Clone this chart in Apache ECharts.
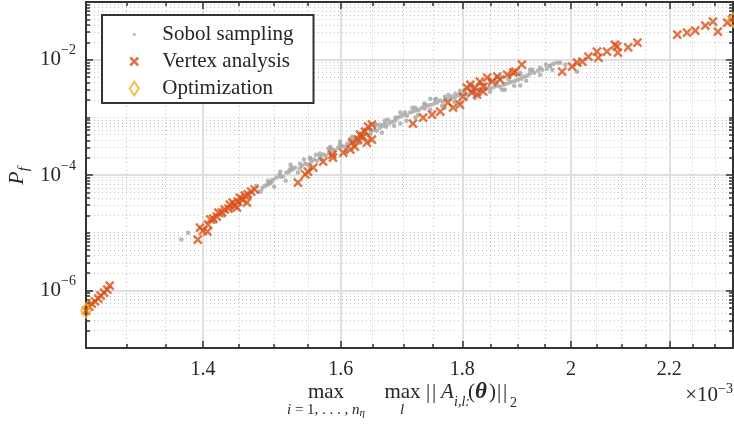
<!DOCTYPE html>
<html>
<head>
<meta charset="utf-8">
<script src="https://cdn.jsdelivr.net/npm/echarts@6.0.0/dist/echarts.min.js"></script>
<style>
  html, body { margin: 0; padding: 0; background: #fff; }
  #chart { width: 734px; height: 425px; }
</style>
</head>
<body>
<div id="chart"></div>
<script>
// x values are in units of 1e-3 (axis shows x10^-3)
const xMin = 1.25
const xMax = 2.34
const yMin = 1e-7
const yMax = 1e-1
const xMajorTicks = [1.4, 1.6, 1.8, 2, 2.2]
const xMinorTicks = [1.3, 1.35, 1.45, 1.5, 1.55, 1.65, 1.7, 1.75, 1.85, 1.9, 1.95, 2.05, 2.1, 2.15, 2.25, 2.3]
const yMajorExps = [-6, -4, -2]

const sobolX = [1.371, 1.380, 1.417, 1.428, 1.439, 1.450, 1.465, 1.477, 1.483, 1.487,
  1.490, 1.493, 1.496, 1.498, 1.503, 1.508, 1.513, 1.518, 1.522, 1.527,
  1.531, 1.538, 1.541, 1.546, 1.550, 1.555, 1.559, 1.564, 1.568, 1.573,
  1.577, 1.582, 1.587, 1.591, 1.596, 1.601, 1.605, 1.610, 1.615, 1.619,
  1.624, 1.629, 1.633, 1.638, 1.643, 1.648, 1.653, 1.657, 1.662, 1.667,
  1.672, 1.677, 1.682, 1.687, 1.691, 1.696, 1.701, 1.706, 1.711, 1.716,
  1.721, 1.726, 1.731, 1.736, 1.741, 1.746, 1.752, 1.757, 1.762, 1.767,
  1.772, 1.777, 1.782, 1.787, 1.793, 1.798, 1.803, 1.808, 1.814, 1.819,
  1.824, 1.830, 1.835, 1.840, 1.846, 1.851, 1.857, 1.862, 1.867, 1.873,
  1.878, 1.884, 1.889, 1.895, 1.900, 1.906, 1.911, 1.917, 1.922, 1.930,
  1.937, 1.945, 1.954, 1.960, 1.966, 1.973, 1.989, 2.012,
  1.524, 1.553, 1.584, 1.607, 1.630, 1.654, 1.670, 1.695, 1.720, 1.745,
  1.770, 1.796, 1.823, 1.849, 1.876, 1.904,
  1.474, 1.481, 1.491, 1.500, 1.509, 1.517, 1.526, 1.535, 1.544, 1.553,
  1.562, 1.571, 1.581, 1.590, 1.599, 1.608, 1.618, 1.627, 1.637, 1.646,
  1.656, 1.665, 1.675, 1.685, 1.695, 1.705, 1.715, 1.725, 1.735, 1.745,
  1.755, 1.765, 1.776, 1.786, 1.796, 1.807, 1.817, 1.828, 1.839, 1.849,
  1.860, 1.871, 1.882, 1.893, 1.904, 1.915, 1.926, 1.941, 1.952, 1.964,
  1.814, 1.831, 1.849, 1.867, 1.885, 1.904, 1.922, 1.941, 1.960, 1.979,
  1.670, 1.687, 1.703, 1.720, 1.736, 1.753, 1.770, 1.788, 1.805,
  1.494, 1.509, 1.523, 1.538, 1.553, 1.568, 1.584, 1.599, 1.615, 1.630, 1.646, 1.662]
const sobolP = [7.6e-6, 1.0e-5, 1.55e-5, 1.97e-5, 2.61e-5, 3.32e-5, 4.22e-5, 5.14e-5, 6.04e-5, 6.53e-5,
  6.8e-5, 7.08e-5, 7.38e-5, 8.3e-5, 9.0e-5, 1.02e-4, 9.4e-5, 1.10e-4, 1.14e-4, 1.24e-4,
  1.34e-4, 1.29e-4, 1.45e-4, 1.57e-4, 1.51e-4, 1.71e-4, 1.85e-4, 1.77e-4, 2.08e-4, 2.26e-4,
  2.17e-4, 2.44e-4, 2.75e-4, 2.65e-4, 2.98e-4, 3.23e-4, 3.10e-4, 3.50e-4, 3.79e-4, 3.94e-4,
  4.27e-4, 4.62e-4, 4.45e-4, 5.21e-4, 5.0e-4, 5.65e-4, 6.12e-4, 5.88e-4, 6.62e-4, 7.18e-4,
  6.9e-4, 7.78e-4, 8.41e-4, 8.77e-4, 9.89e-4, 1.03e-3, 1.11e-3, 1.07e-3, 1.21e-3, 1.26e-3,
  1.31e-3, 1.36e-3, 1.47e-3, 1.42e-3, 1.60e-3, 1.66e-3, 1.73e-3, 1.80e-3, 1.95e-3, 1.87e-3,
  2.03e-3, 2.11e-3, 2.29e-3, 2.19e-3, 2.38e-3, 2.48e-3, 2.58e-3, 2.48e-3, 2.79e-3, 2.68e-3,
  2.90e-3, 3.02e-3, 2.90e-3, 3.15e-3, 3.27e-3, 3.15e-3, 3.40e-3, 3.55e-3, 3.40e-3, 3.69e-3,
  3.84e-3, 4.0e-3, 4.16e-3, 4.33e-3, 4.5e-3, 4.69e-3, 5.08e-3, 5.28e-3, 5.73e-3, 5.96e-3,
  6.45e-3, 6.71e-3, 6.98e-3, 7.87e-3, 8.53e-3, 8.87e-3, 8.19e-3, 6.19e-3,
  1.51e-4, 2.0e-4, 3.10e-4, 2.54e-4, 3.64e-4, 7.48e-4, 8.77e-4, 7.78e-4, 9.89e-4, 2.11e-3,
  1.47e-3, 1.80e-3, 2.19e-3, 4.16e-3, 3.02e-3, 3.55e-3,
  6.54e-5, 5.15e-5, 7.98e-5, 6.28e-5, 1.14e-4, 7.98e-5, 1.34e-4, 1.10e-4, 1.85e-4, 1.34e-4,
  2.25e-4, 1.85e-4, 2.87e-4, 2.25e-4, 3.79e-4, 2.75e-4, 4.62e-4, 3.79e-4, 6.12e-4, 4.81e-4,
  7.47e-4, 5.43e-4, 9.12e-4, 7.18e-4, 1.21e-3, 8.76e-4, 1.47e-3, 1.11e-3, 1.73e-3, 1.36e-3,
  2.11e-3, 1.59e-3, 2.47e-3, 1.87e-3, 2.90e-3, 2.11e-3, 3.27e-3, 2.47e-3, 3.69e-3, 2.79e-3,
  4.16e-3, 3.02e-3, 4.69e-3, 3.54e-3, 5.50e-3, 4.33e-3, 6.71e-3, 5.50e-3, 8.20e-3, 6.71e-3,
  3.54e-3, 3.99e-3, 4.50e-3, 5.08e-3, 5.50e-3, 5.95e-3, 6.71e-3, 7.27e-3, 7.87e-3, 8.88e-3,
  7.77e-4, 9.88e-4, 1.21e-3, 1.47e-3, 1.66e-3, 2.03e-3, 2.28e-3, 2.57e-3, 3.02e-3,
  7.67e-5, 9.37e-5, 1.24e-4, 1.57e-4, 1.92e-4, 2.35e-4, 2.87e-4, 3.36e-4, 4.27e-4, 5.22e-4, 6.12e-4, 7.47e-4]

const vertexX = [1.250, 1.254, 1.257, 1.261, 1.265, 1.268, 1.272, 1.276, 1.279,
  1.393, 1.396, 1.400, 1.406, 1.407, 1.410, 1.414, 1.419, 1.421, 1.426, 1.430,
  1.435, 1.437, 1.441, 1.444, 1.447, 1.448, 1.451, 1.455, 1.458, 1.461, 1.462, 1.467, 1.472,
  1.535, 1.546, 1.550, 1.558, 1.573, 1.587, 1.588, 1.604, 1.615, 1.618, 1.622, 1.627, 1.630,
  1.635, 1.638, 1.641, 1.643, 1.649, 1.649,
  1.716, 1.733, 1.748, 1.762, 1.775, 1.784, 1.796, 1.801, 1.808, 1.814, 1.817, 1.823,
  1.826, 1.831, 1.837, 1.837, 1.844, 1.853, 1.862, 1.867, 1.880, 1.891, 1.895, 1.907,
  1.983, 2.002, 2.012, 2.022, 2.034, 2.051, 2.054, 2.071, 2.087, 2.091, 2.093, 2.114, 2.133,
  2.217, 2.238, 2.256, 2.278, 2.295, 2.306, 2.327, 2.338]
const vertexP = [4.45e-7, 5.2e-7, 5.9e-7, 6.4e-7, 7.2e-7, 8.1e-7, 9.1e-7, 1.03e-6, 1.21e-6,
  7.6e-6, 1.22e-5, 1.08e-5, 1.04e-5, 1.38e-5, 1.69e-5, 1.75e-5, 1.90e-5, 2.22e-5, 2.25e-5, 2.51e-5,
  2.61e-5, 3.07e-5, 3.32e-5, 2.94e-5, 2.72e-5, 3.45e-5, 4.05e-5, 3.70e-5, 4.39e-5, 3.32e-5, 4.60e-5, 5.14e-5, 5.60e-5,
  7.37e-5, 1.02e-4, 1.14e-4, 1.34e-4, 1.71e-4, 2.26e-4, 2.00e-4, 2.44e-4, 2.75e-4, 3.64e-4, 3.10e-4, 4.10e-4, 5.00e-4,
  4.62e-4, 5.65e-4, 3.64e-4, 6.90e-4, 7.50e-4, 4.10e-4,
  7.80e-4, 9.90e-4, 1.11e-3, 1.26e-3, 1.80e-3, 1.47e-3, 1.66e-3, 2.29e-3, 3.27e-3, 3.70e-3, 2.68e-3, 3.27e-3,
  2.48e-3, 4.16e-3, 2.79e-3, 3.40e-3, 4.88e-3, 4.16e-3, 5.08e-3, 4.50e-3, 5.50e-3, 5.96e-3, 6.20e-3, 8.20e-3,
  6.20e-3, 7.57e-3, 8.90e-3, 9.24e-3, 1.13e-2, 1.38e-2, 1.08e-2, 1.38e-2, 1.82e-2, 1.68e-2, 1.32e-2, 1.64e-2, 1.97e-2,
  2.72e-2, 2.94e-2, 3.18e-2, 3.89e-2, 4.56e-2, 3.06e-2, 4.38e-2, 4.94e-2]

const optX = [1.25, 2.34]
const optP = [4.45e-7, 4.9e-2]

const serif = '"Liberation Serif", "Times New Roman", serif'
const axisColor = '#333333'
const textColor = '#262626'
const lg = Math.log10

const zip = (xs, ys) => xs.map((x, i) => [x, ys[i]])

// minor y ticks (k * 10^n) in log10 space, majors left out
let yMinor = []
for (let n = -7; n <= -2; n++) {
  for (let k = 1; k <= 9; k++) {
    let v = n + lg(k)
    if (v > -7 && v < -1 && yMajorExps.indexOf(v) < 0) yMinor.push(v)
  }
}

const majorSplit = { show: true, lineStyle: { color: '#dfdfdf', width: 2 } }
const minorSplit = { show: true, lineStyle: { color: '#c2c2c2', width: 1, type: [1, 3] } }

function guideX (position, vals, len, withLabel, split) {
  return {
    type: 'value', position: position, min: lg(xMin), max: lg(xMax),
    axisLine: { show: true, onZero: false, lineStyle: { color: axisColor, width: 2 } },
    axisTick: { show: true, inside: true, length: len, customValues: vals, lineStyle: { color: axisColor, width: 1.5 } },
    axisLabel: {
      show: withLabel, customValues: vals, margin: 12,
      fontFamily: serif, fontSize: 20, color: textColor,
      formatter: v => String(Number(Math.pow(10, v).toFixed(2)))
    },
    splitLine: split
  }
}

function guideY (position, vals, len, withLabel, split) {
  return {
    type: 'value', position: position, min: -7, max: -1,
    axisLine: { show: true, onZero: false, lineStyle: { color: axisColor, width: 2 } },
    axisTick: { show: true, inside: true, length: len, customValues: vals, lineStyle: { color: axisColor, width: 1.5 } },
    axisLabel: {
      show: withLabel, customValues: vals, margin: 10,
      formatter: v => '{b|10}{s|\u2212' + Math.abs(Math.round(v)) + '}',
      rich: {
        b: { fontFamily: serif, fontSize: 21, color: textColor, lineHeight: 32 },
        s: { fontFamily: serif, fontSize: 14, color: textColor, verticalAlign: 'top', lineHeight: 16 }
      }
    },
    splitLine: split
  }
}

const xMajorLog = xMajorTicks.map(v => lg(v))
const xMinorLog = xMinorTicks.map(v => lg(v))

const dotIcon = 'path://M0,0M14,14M5.6,7a1.4,1.4 0 1,0 2.8,0a1.4,1.4 0 1,0 -2.8,0Z'
const crossIcon = 'path://M0,0M14,14M3.5,3.5L10.5,10.5M10.5,3.5L3.5,10.5'
const diamondIcon = 'path://M0,0M14,14M7,1L11,7L7,13L3,7Z'

// pieces of the x axis title
const mainY = 392
const subY = 402
function piece (text, x, y, size, fontStyle, align) {
  return {
    type: 'text', x: x, y: y,
    style: { text: text, font: fontStyle + ' ' + size + 'px ' + serif, fill: textColor, align: align || 'left', verticalAlign: 'middle' }
  }
}

const chart = echarts.init(document.getElementById('chart'))
chart.setOption({
  animation: false,
  backgroundColor: '#ffffff',
  grid: { left: 86, top: 2, width: 647, height: 346, outerBoundsMode: 'none', containLabel: false },
  xAxis: [
    { type: 'log', logBase: 10, min: xMin, max: xMax, show: false },
    guideX('bottom', xMajorLog, 7, true, majorSplit),
    guideX('bottom', xMinorLog, 4, false, minorSplit),
    guideX('top', xMajorLog, 7, false, { show: false }),
    guideX('top', xMinorLog, 4, false, { show: false })
  ],
  yAxis: [
    { type: 'log', logBase: 10, min: yMin, max: yMax, show: false },
    guideY('left', yMajorExps, 7, true, majorSplit),
    guideY('left', yMinor, 4, false, minorSplit),
    guideY('right', yMajorExps, 7, false, { show: false }),
    guideY('right', yMinor, 4, false, { show: false })
  ],
  legend: {
    orient: 'vertical', left: 102, top: 15,
    padding: [9, 20, 4, 23],
    itemWidth: 46, itemHeight: 16, itemGap: 6,
    backgroundColor: '#ffffff', borderColor: '#333333', borderWidth: 2, borderRadius: 0,
    textStyle: { fontFamily: serif, fontSize: 21, color: textColor, lineHeight: 20 },
    selectedMode: false,
    data: [
      { name: 'Sobol sampling', icon: dotIcon, itemStyle: { color: '#a6a6a6', borderWidth: 0 } },
      { name: 'Vertex analysis', icon: crossIcon, itemStyle: { color: 'rgba(0,0,0,0)', borderColor: '#D95319', borderWidth: 2.5 } },
      { name: 'Optimization', icon: diamondIcon, itemStyle: { color: 'rgba(0,0,0,0)', borderColor: '#EDB120', borderWidth: 2 } }
    ]
  },
  series: [
    {
      name: 'Sobol sampling', type: 'scatter', xAxisIndex: 0, yAxisIndex: 0,
      data: zip(sobolX, sobolP), symbol: 'circle', symbolSize: 4.5,
      itemStyle: { color: '#a6a6a6' }, silent: true
    },
    {
      name: 'Vertex analysis', type: 'scatter', xAxisIndex: 0, yAxisIndex: 0,
      data: zip(vertexX, vertexP), symbol: 'path://M0,0L10,10M10,0L0,10', symbolSize: 8,
      itemStyle: { color: 'rgba(0,0,0,0)', borderColor: '#D95319', borderWidth: 2.4 }, silent: true
    },
    {
      name: 'Optimization', type: 'scatter', xAxisIndex: 0, yAxisIndex: 0, clip: false,
      data: zip(optX, optP), symbol: 'diamond', symbolSize: [10, 14],
      itemStyle: { color: 'rgba(0,0,0,0)', borderColor: '#EDB120', borderWidth: 2 }, silent: true
    }
  ],
  graphic: [
    piece('max', 326, mainY, 21, 'normal', 'center'),
    {
      type: 'text', x: 326, y: 410,
      style: {
        text: '{i|i}{r| = 1, . . . , }{i|n}{s|\u03b7}', align: 'center', verticalAlign: 'middle',
        rich: {
          i: { fontFamily: serif, fontStyle: 'italic', fontSize: 15, fill: textColor, lineHeight: 18 },
          r: { fontFamily: serif, fontSize: 15, fill: textColor, lineHeight: 18 },
          s: { fontFamily: serif, fontStyle: 'italic', fontSize: 11, fill: textColor, lineHeight: 11, verticalAlign: 'bottom' }
        }
      }
    },
    piece('max', 402.5, mainY, 21, 'normal', 'center'),
    piece('l', 402, 410, 15, 'italic', 'center'),
    piece('|', 426, mainY, 21, 'normal'),
    piece('|', 432, mainY, 21, 'normal'),
    piece('A', 441, mainY, 21, 'italic'),
    piece('i,l:', 454, subY, 14, 'italic'),
    piece('(', 468, mainY, 21, 'normal'),
    piece('\u03b8', 475, mainY, 23, 'italic bold'),
    piece(')', 489, mainY, 21, 'normal'),
    piece('|', 497, mainY, 21, 'normal'),
    piece('|', 503, mainY, 21, 'normal'),
    piece('2', 510, subY + 1, 14, 'normal'),
    {
      type: 'text', x: 733, y: 395,
      style: {
        text: '{r|\u00d710}{s|\u22123}', align: 'right', verticalAlign: 'middle',
        rich: {
          r: { fontFamily: serif, fontSize: 21, fill: textColor, lineHeight: 26 },
          s: { fontFamily: serif, fontSize: 14, fill: textColor, lineHeight: 14, verticalAlign: 'top' }
        }
      }
    },
    {
      type: 'text', x: 17, y: 176, rotation: Math.PI / 2,
      style: {
        text: '{i|P}{s|f}', align: 'center', verticalAlign: 'middle',
        rich: {
          i: { fontFamily: serif, fontStyle: 'italic', fontSize: 22, fill: textColor, lineHeight: 30 },
          s: { fontFamily: serif, fontStyle: 'italic', fontSize: 15, fill: textColor, lineHeight: 15, verticalAlign: 'bottom' }
        }
      }
    }
  ]
})
</script>
</body>
</html>
